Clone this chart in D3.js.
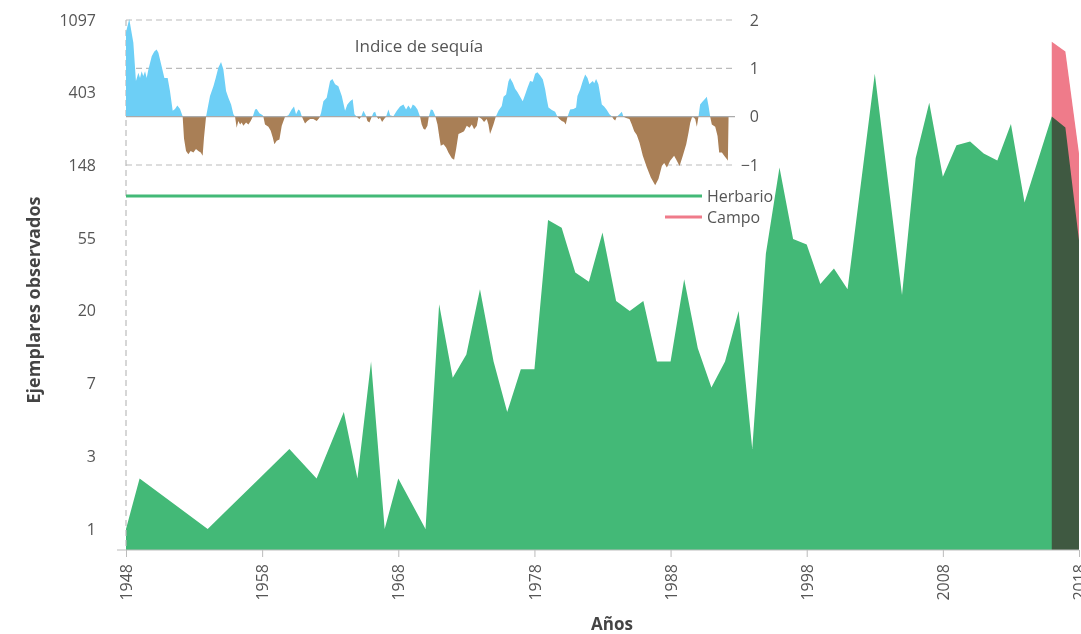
<!DOCTYPE html>
<html>
<head>
<meta charset="utf-8">
<script src="https://cdn.jsdelivr.net/npm/d3@7"></script>
<style>
  body { margin: 0; background: #fff; }
  svg { display: block; font-family: "Open Sans", sans-serif; }
  .axis text { fill: #555; font-family: "Open Sans", sans-serif; }
</style>
</head>
<body>
<div id="chart"></div>
<script>
// Herbario records per year (log scale)
let herbYears = [1948, 1949, 1954, 1960, 1962, 1964, 1965, 1966, 1967, 1968, 1970, 1971, 1972, 1973, 1974, 1975, 1976, 1977, 1978, 1979,
  1980, 1981, 1982, 1983, 1984, 1985, 1986, 1987, 1988, 1989, 1990, 1991, 1992, 1993, 1994, 1995, 1996, 1997, 1998, 1999,
  2000, 2001, 2003, 2005, 2006, 2007, 2008, 2009, 2010, 2011, 2012, 2013, 2014, 2016, 2017, 2018];
let herbValues = [1, 2, 1, 3, 2, 5, 2, 10, 1, 2, 1, 22, 8, 11, 27, 10, 5, 9, 9, 70,
  63, 34, 30, 59, 23, 20, 23, 10, 10, 31, 12, 7, 10, 20, 3, 44, 144, 54, 50, 29,
  36, 27, 523, 25, 164, 351, 127, 196, 206, 175, 159, 262, 89, 291, 250, 53];

// Campo (field) records
let campoYears = [2016, 2017, 2018];
let campoValues = [814, 711, 175];

// drought index
let droughtYears = [1948.00, 1948.24, 1948.54, 1948.73, 1948.91, 1949.03, 1949.15, 1949.27, 1949.40, 1949.52, 1949.64, 1949.89, 1950.08, 1950.25, 1950.38, 1950.62, 1950.82,
  1951.06, 1951.23, 1951.43, 1951.60, 1951.77, 1951.97, 1952.16, 1952.26, 1952.41, 1952.58, 1952.75, 1952.95, 1953.14, 1953.31, 1953.49, 1953.63, 1953.73, 1953.88,
  1953.98, 1954.17, 1954.42, 1954.59, 1954.78, 1954.98, 1955.15, 1955.35, 1955.52, 1955.72, 1955.89, 1956.01, 1956.13, 1956.25, 1956.38, 1956.50, 1956.62, 1956.82,
  1956.99, 1957.16, 1957.31, 1957.48, 1957.60, 1957.80, 1958.04, 1958.09, 1958.21, 1958.46, 1958.63, 1958.78, 1958.90, 1959.07, 1959.27, 1959.44, 1959.68, 1959.93,
  1960.17, 1960.34, 1960.49, 1960.66, 1960.78, 1960.91, 1961.03, 1961.15, 1961.32, 1961.52, 1961.76, 1962.01, 1962.21, 1962.33, 1962.50, 1962.74, 1962.99,
  1963.16, 1963.36, 1963.60, 1963.85, 1964.09, 1964.26, 1964.46, 1964.65, 1964.78, 1964.95, 1965.14, 1965.27, 1965.44, 1965.61, 1965.73, 1965.88, 1966.00,
  1966.17, 1966.30, 1966.42, 1966.54, 1966.66, 1966.81, 1966.96, 1967.10, 1967.28, 1967.40, 1967.64, 1967.89, 1968.13, 1968.38, 1968.57, 1968.74, 1968.92,
  1969.06, 1969.23, 1969.41, 1969.60, 1969.72, 1969.85, 1969.97, 1970.14, 1970.24, 1970.39, 1970.53, 1970.70, 1970.88, 1971.02, 1971.12, 1971.32, 1971.51,
  1971.68, 1971.93, 1972.10, 1972.25, 1972.42, 1972.66, 1972.83, 1973.03, 1973.23, 1973.40, 1973.57, 1973.77, 1973.89, 1974.13, 1974.30, 1974.50, 1974.62,
  1974.74, 1974.87, 1974.99, 1975.16, 1975.36, 1975.60, 1975.73, 1975.92, 1976.09, 1976.21, 1976.41, 1976.58, 1976.75, 1976.95, 1977.14, 1977.32, 1977.49,
  1977.68, 1977.88, 1978.05, 1978.22, 1978.42, 1978.62, 1978.79, 1978.91, 1979.03, 1979.28, 1979.52, 1979.69, 1979.84, 1980.01, 1980.18, 1980.30, 1980.43,
  1980.62, 1980.87, 1981.06, 1981.16, 1981.36, 1981.55, 1981.73, 1981.90, 1982.04, 1982.14, 1982.29, 1982.39, 1982.53, 1982.70, 1982.83, 1982.95, 1983.12,
  1983.32, 1983.51, 1983.68, 1983.81, 1983.93, 1984.05, 1984.25, 1984.42, 1984.54, 1984.74, 1984.98, 1985.15, 1985.33, 1985.52, 1985.72, 1985.96, 1986.26,
  1986.55, 1986.87, 1987.11, 1987.36, 1987.53, 1987.73, 1987.97, 1988.26, 1988.46, 1988.66, 1988.90, 1989.15, 1989.32, 1989.44, 1989.56, 1989.64, 1989.81,
  1989.93, 1990.05, 1990.17, 1990.37, 1990.54, 1990.66, 1990.79, 1990.91, 1991.03, 1991.28, 1991.45, 1991.57, 1991.77, 1991.94, 1992.14, 1992.21, 1992.26];
let droughtValues = [1.75, 2.02, 1.53, 0.74, 0.91, 0.80, 0.94, 0.84, 0.94, 0.80, 0.97, 1.25, 1.35, 1.39, 1.32, 1.04, 0.80,
  0.80, 0.53, 0.12, 0.16, 0.23, 0.16, 0.01, -0.45, -0.71, -0.78, -0.71, -0.74, -0.67, -0.71, -0.74, -0.81, -0.43, 0.00,
  0.15, 0.43, 0.63, 0.80, 1.01, 1.13, 0.98, 0.53, 0.39, 0.25, 0.05, 0.00, -0.23, -0.09, -0.16, -0.12, -0.19, -0.12,
  -0.16, -0.09, 0.00, 0.15, 0.16, 0.07, 0.03, 0.00, -0.16, -0.21, -0.29, -0.43, -0.57, -0.50, -0.47, -0.19, 0.00, 0.03,
  0.15, 0.21, 0.05, 0.15, 0.12, 0.01, -0.07, -0.14, -0.09, -0.05, -0.05, -0.09, -0.02, 0.08, 0.32, 0.39, 0.74,
  0.78, 0.67, 0.63, 0.43, 0.12, 0.25, 0.32, 0.36, 0.05, 0.00, -0.05, 0.00, 0.12, 0.03, -0.09, -0.12, -0.04,
  0.08, 0.10, 0.00, -0.05, -0.02, -0.11, -0.05, 0.00, 0.15, 0.03, 0.01, 0.12, 0.21, 0.25, 0.15, 0.23, 0.16,
  0.25, 0.22, 0.15, 0.00, -0.16, -0.25, -0.27, -0.19, 0.00, 0.15, 0.14, 0.03, -0.16, -0.43, -0.60, -0.57, -0.64,
  -0.74, -0.86, -0.89, -0.67, -0.36, -0.33, -0.30, -0.19, -0.23, -0.16, -0.26, -0.19, 0.00, -0.05, -0.11, -0.05, -0.16,
  -0.36, -0.26, -0.16, 0.00, 0.12, 0.22, 0.41, 0.46, 0.73, 0.80, 0.70, 0.58, 0.51, 0.41, 0.32, 0.46, 0.60,
  0.74, 0.72, 0.89, 0.92, 0.85, 0.77, 0.56, 0.36, 0.19, 0.14, 0.10, 0.00, -0.05, -0.09, -0.11, -0.16, 0.00,
  0.15, 0.16, 0.19, 0.43, 0.56, 0.74, 0.87, 0.80, 0.67, 0.70, 0.74, 0.69, 0.78, 0.67, 0.46, 0.25, 0.21,
  0.14, 0.05, 0.01, -0.05, -0.08, 0.00, 0.05, 0.10, 0.00, -0.03, -0.05, -0.16, -0.30, -0.38, -0.54, -0.81, -1.05,
  -1.26, -1.42, -1.29, -1.02, -0.96, -1.05, -0.91, -0.81, -0.91, -1.02, -0.81, -0.57, -0.33, -0.13, -0.02, 0.00, -0.05,
  -0.21, 0.00, 0.25, 0.32, 0.37, 0.41, 0.22, 0.00, -0.16, -0.21, -0.40, -0.74, -0.74, -0.81, -0.88, -0.91, 0.00];

let xTicks = [1948, 1958, 1968, 1978, 1988, 1998, 2008, 2018];
let yTickExps = [0, 1, 2, 3, 4, 5, 6, 7];
let yTickLabels = ["1", "3", "7", "20", "55", "148", "403", "1097"];
let droughtTicks = [-1, 0, 1, 2];
let droughtGrid = [-1, 1, 2];

let width = 1081, height = 634;
let plotLeft = 126, plotRight = 1079, plotTop = 20, plotBottom = 550;
let droughtRight = 735;

let svg = d3.select("#chart")
    .append("svg")
    .attr("width", width)
    .attr("height", height);

let x = d3.scaleLinear().domain([1948, 2018]).range([plotLeft, plotRight]);
let y = d3.scaleLog().domain([Math.exp(-0.29), Math.exp(7)]).range([plotBottom, plotTop]);
let y2 = d3.scaleLinear().domain([-1, 2]).range([165, plotTop]);

let herb = herbYears.map((d, i) => ({year: d, value: herbValues[i]}));
let campo = campoYears.map((d, i) => ({year: d, value: campoValues[i]}));
let drought = droughtYears.map((d, i) => ({year: d, value: droughtValues[i]}));

// main areas
let area = d3.area()
    .x(d => x(d.year))
    .y0(plotBottom)
    .y1(d => y(d.value));

svg.append("path")
    .datum(herb)
    .attr("fill", "#43b977")
    .attr("d", area);

svg.append("path")
    .datum(campo)
    .attr("fill", "#ef7b8a")
    .style("mix-blend-mode", "multiply")
    .attr("d", area);

// drought grid
svg.append("g")
    .selectAll("line")
    .data(droughtGrid)
    .enter()
    .append("line")
    .attr("x1", plotLeft)
    .attr("x2", droughtRight)
    .attr("y1", d => y2(d))
    .attr("y2", d => y2(d))
    .attr("stroke", "#bbb")
    .attr("stroke-width", 1.2)
    .attr("stroke-dasharray", "6,4");

svg.append("line")
    .attr("x1", plotLeft).attr("x2", plotLeft)
    .attr("y1", plotTop).attr("y2", plotBottom)
    .attr("stroke", "#bbb")
    .attr("stroke-width", 1.2)
    .attr("stroke-dasharray", "6,4");

// drought areas, split at zero
let defs = svg.append("defs");
defs.append("clipPath").attr("id", "above")
    .append("rect")
    .attr("x", plotLeft).attr("y", 0)
    .attr("width", droughtRight - plotLeft).attr("height", y2(0));
defs.append("clipPath").attr("id", "below")
    .append("rect")
    .attr("x", plotLeft).attr("y", y2(0))
    .attr("width", droughtRight - plotLeft).attr("height", 200);

let dArea = d3.area()
    .x(d => x(d.year))
    .y0(y2(0))
    .y1(d => y2(d.value));

svg.append("path")
    .datum(drought)
    .attr("clip-path", "url(#above)")
    .attr("fill", "#6dcff6")
    .attr("d", dArea);

svg.append("path")
    .datum(drought)
    .attr("clip-path", "url(#below)")
    .attr("fill", "#a97f56")
    .attr("d", dArea);

svg.append("line")
    .attr("x1", plotLeft).attr("x2", droughtRight)
    .attr("y1", y2(0)).attr("y2", y2(0))
    .attr("stroke", "#aaa")
    .attr("stroke-width", 1.2);

// drought axis
let dAxis = svg.append("g")
    .attr("class", "axis")
    .attr("transform", `translate(${droughtRight},0)`)
    .call(d3.axisRight(y2).tickValues(droughtTicks).tickSize(0).tickFormat(d3.format("d")));
dAxis.select(".domain").remove();
dAxis.selectAll("text")
    .attr("x", 24)
    .style("text-anchor", "end")
    .style("font-size", "16px");

svg.append("text")
    .attr("x", 419)
    .attr("y", 52)
    .style("text-anchor", "middle")
    .style("font-size", "17px")
    .style("fill", "#555")
    .text("Indice de sequía");

// legend
svg.append("line")
    .attr("x1", plotLeft).attr("x2", 702)
    .attr("y1", 196).attr("y2", 196)
    .attr("stroke", "#43b977")
    .attr("stroke-width", 3);
svg.append("text")
    .attr("x", 707).attr("y", 196)
    .attr("dy", "0.35em")
    .style("font-size", "16px")
    .style("fill", "#555")
    .text("Herbario");
svg.append("line")
    .attr("x1", 665).attr("x2", 702)
    .attr("y1", 217).attr("y2", 217)
    .attr("stroke", "#ef7b8a")
    .attr("stroke-width", 3);
svg.append("text")
    .attr("x", 707).attr("y", 217)
    .attr("dy", "0.35em")
    .style("font-size", "16px")
    .style("fill", "#555")
    .text("Campo");

// y axis
let yAxis = svg.append("g")
    .attr("class", "axis")
    .attr("transform", `translate(${plotLeft},0)`)
    .call(d3.axisLeft(y)
        .tickValues(yTickExps.map(e => Math.exp(e)))
        .tickFormat((d, i) => yTickLabels[i])
        .tickSize(0)
        .tickPadding(30));
yAxis.select(".domain").remove();
yAxis.selectAll("text").style("font-size", "16px");

// x axis
let xAxis = svg.append("g")
    .attr("class", "axis")
    .attr("transform", `translate(0,${plotBottom})`)
    .call(d3.axisBottom(x).tickValues(xTicks).tickFormat(d3.format("d")).tickSize(7));
xAxis.select(".domain").remove();
xAxis.selectAll("line").attr("stroke", "#bbb");
xAxis.selectAll("text")
    .attr("transform", "rotate(-90)")
    .attr("x", -14)
    .attr("y", 0)
    .attr("dy", "0.35em")
    .style("text-anchor", "end")
    .style("font-size", "16px");

svg.append("line")
    .attr("x1", 117).attr("x2", plotRight)
    .attr("y1", plotBottom).attr("y2", plotBottom)
    .attr("stroke", "#bbb")
    .attr("stroke-width", 1.2);

// axis titles
svg.append("text")
    .attr("transform", `translate(40,300)rotate(-90)`)
    .style("text-anchor", "middle")
    .style("font-size", "18px")
    .style("font-weight", "bold")
    .style("fill", "#444")
    .text("Ejemplares observados");

svg.append("text")
    .attr("x", 612)
    .attr("y", 630)
    .style("text-anchor", "middle")
    .style("font-size", "17px")
    .style("font-weight", "bold")
    .style("fill", "#444")
    .text("Años");
</script>
</body>
</html>
